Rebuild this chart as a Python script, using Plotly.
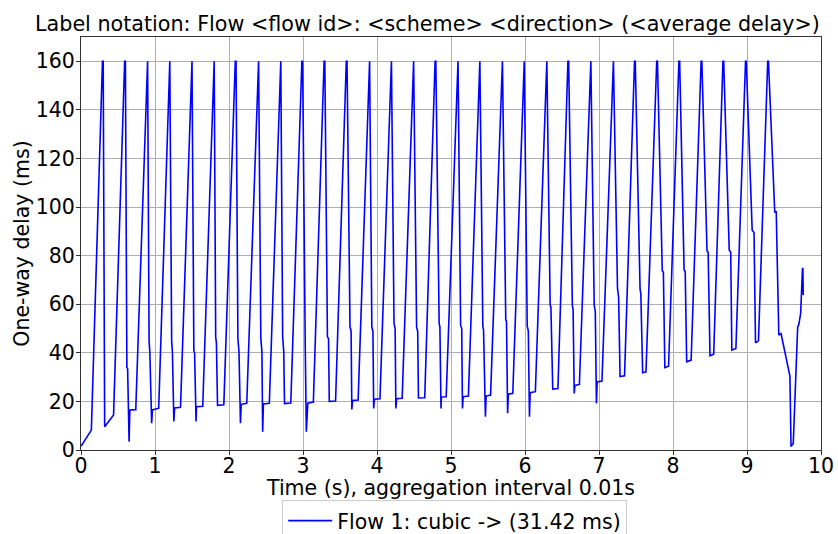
import plotly.graph_objects as go

# Time (s) of each vertex of the delay trace
time_s = [
    0.00, 0.14, 0.29, 0.30, 0.32, 0.44,
    0.59, 0.60, 0.62, 0.63, 0.65, 0.66, 0.74,
    0.89, 0.90, 0.92, 0.93, 0.955, 0.965, 1.05,
    1.19, 1.20, 1.225, 1.235, 1.255, 1.265, 1.345,
    1.49, 1.50, 1.525, 1.535, 1.555, 1.56, 1.645,
    1.79, 1.80, 1.82, 1.83, 1.845, 1.93,
    2.085, 2.095, 2.12, 2.135, 2.155, 2.165, 2.24,
    2.39, 2.40, 2.43, 2.445, 2.455, 2.465, 2.545,
    2.69, 2.70, 2.725, 2.74, 2.75, 2.835,
    2.985, 2.995, 3.03, 3.045, 3.065, 3.14,
    3.285, 3.295, 3.33, 3.345, 3.355, 3.44,
    3.585, 3.595, 3.635, 3.65, 3.66, 3.67, 3.745,
    3.89, 3.90, 3.93, 3.945, 3.955, 3.965, 4.04,
    4.185, 4.195, 4.23, 4.245, 4.255, 4.265, 4.34,
    4.485, 4.495, 4.535, 4.55, 4.56, 4.645,
    4.785, 4.795, 4.84, 4.85, 4.865, 4.87, 4.935,
    5.085, 5.095, 5.13, 5.145, 5.155, 5.165, 5.235,
    5.38, 5.39, 5.43, 5.44, 5.465, 5.475, 5.535,
    5.685, 5.695, 5.74, 5.75, 5.765, 5.775, 5.835,
    5.98, 5.99, 6.03, 6.045, 6.06, 6.07, 6.14,
    6.285, 6.295, 6.34, 6.35, 6.375, 6.445,
    6.58, 6.59, 6.64, 6.65, 6.665, 6.675, 6.735,
    6.88, 6.89, 6.935, 6.95, 6.965, 6.975, 7.04,
    7.185, 7.195, 7.25, 7.265, 7.285, 7.345,
    7.48, 7.49, 7.555, 7.565, 7.59, 7.635,
    7.78, 7.79, 7.855, 7.87, 7.89, 7.94,
    8.08, 8.09, 8.15, 8.165, 8.185, 8.245,
    8.38, 8.39, 8.46, 8.475, 8.50, 8.55,
    8.675, 8.685, 8.76, 8.78, 8.795, 8.85,
    8.98, 8.99, 9.07, 9.095, 9.115, 9.155,
    9.28, 9.29, 9.375, 9.395, 9.43, 9.46,
    9.58, 9.595, 9.625, 9.685, 9.70, 9.725, 9.75, 9.755, 9.76,
]

# One-way delay (ms) at each vertex
delay_ms = [
    1.5, 8.2, 160, 160, 9.6, 14.4,
    160, 160, 34, 33.5, 3.4, 16.5, 16.6,
    160, 160, 45, 40.4, 11, 16.5, 17.2,
    160, 160, 45, 40.4, 11.7, 17.3, 17.6,
    160, 160, 41, 40, 11.7, 17.8, 18,
    160, 160, 46.6, 44, 18.4, 18.6,
    160, 160, 46, 40.4, 11, 18.8, 19.2,
    160, 160, 46, 40.4, 7.5, 18.9, 19.2,
    160, 160, 46.6, 40.4, 19.1, 19.3,
    160, 160, 43.2, 7.5, 19.3, 19.7,
    160, 160, 46.6, 45.9, 20, 20.2,
    160, 160, 50.7, 49, 16.7, 20.4, 20.6,
    160, 160, 50.7, 48.8, 17.1, 20.9, 21.1,
    160, 160, 52.1, 50, 17.1, 21.1, 21.3,
    160, 160, 50.7, 48.8, 21.4, 21.5,
    160, 160, 52.1, 50.7, 17.1, 21.8, 21.9,
    160, 160, 51.4, 50, 17.1, 21.9, 22.2,
    160, 160, 51, 49.3, 13.7, 22.2, 22.6,
    160, 160, 53.5, 53, 15.1, 23, 23.3,
    160, 160, 51, 49, 13.7, 23.6, 24,
    160, 160, 59.6, 58.9, 25.1, 25.3,
    160, 160, 59.4, 57.8, 23.3, 26.6, 27,
    160, 160, 59.6, 57, 19.2, 28, 28.4,
    160, 160, 66.5, 63, 30.2, 30.5,
    160, 160, 66.1, 64.5, 31.8, 32.2,
    160, 160, 73.8, 73.2, 33.9, 34.5,
    160, 160, 74, 73.5, 36.3, 37,
    160, 160, 81.9, 81.5, 38.8, 39.4,
    160, 160, 82.2, 81.5, 41.1, 41.8,
    160, 160, 90.5, 89.5, 44.1, 44.9,
    160, 160, 98, 98, 47.3, 47.9,
    30.4, 1.4, 2.7, 50.7, 51.6, 56.2, 74.7, 74.7, 63.8,
]

series_name = "Flow 1: cubic -> (31.42 ms)"
x_ticks = [0, 1, 2, 3, 4, 5, 6, 7, 8, 9, 10]
y_ticks = [0, 20, 40, 60, 80, 100, 120, 140, 160]

font_family = "DejaVu Sans"
fs = 20.5

fig = go.Figure()
fig.add_trace(go.Scatter(
    x=time_s, y=delay_ms, mode="lines", name=series_name,
    line=dict(color="#0000ff", width=1.6),
))

axis_common = dict(
    showgrid=True, gridcolor="#b0b0b0", gridwidth=1,
    showline=True, linecolor="#333333", linewidth=1.2, mirror=True,
    ticks="outside", ticklen=4, tickcolor="#333333",
    tickfont=dict(family=font_family, size=fs, color="black"),
    zeroline=False, automargin=False,
)

fig.update_layout(
    width=838, height=534,
    margin=dict(l=81, r=17, t=37, b=84),
    paper_bgcolor="white", plot_bgcolor="white",
    font=dict(family=font_family, size=fs, color="black"),
    title=dict(
        text="Label notation: Flow &lt;flow id&gt;: &lt;scheme&gt; &lt;direction&gt; (&lt;average delay&gt;)",
        x=0.5101, xanchor="center", y=0.955, yanchor="middle",
        font=dict(family=font_family, size=20.7, color="black"),
    ),
    xaxis=dict(range=[0, 10], tickvals=x_ticks, ticklabelstandoff=-7,
               title=dict(text="Time (s), aggregation interval 0.01s", standoff=1,
                          font=dict(family=font_family, size=fs)),
               **axis_common),
    yaxis=dict(range=[0, 170], tickvals=y_ticks, ticklabelstandoff=-3,
               title=dict(text="One-way delay (ms)", standoff=0,
                          font=dict(family=font_family, size=fs)),
               **axis_common),
    showlegend=True,
    legend=dict(
        orientation="h", x=0.505, xanchor="center",
        yref="container", y=0.064, yanchor="top",
        itemwidth=44,
        bordercolor="#cccccc", borderwidth=1, bgcolor="white",
        font=dict(family=font_family, size=fs),
    ),
)

fig.write_html(
    "out.html",
    config={"displayModeBar": False},
    post_script="document.body.style.margin='0';document.body.style.overflow='hidden';",
)
